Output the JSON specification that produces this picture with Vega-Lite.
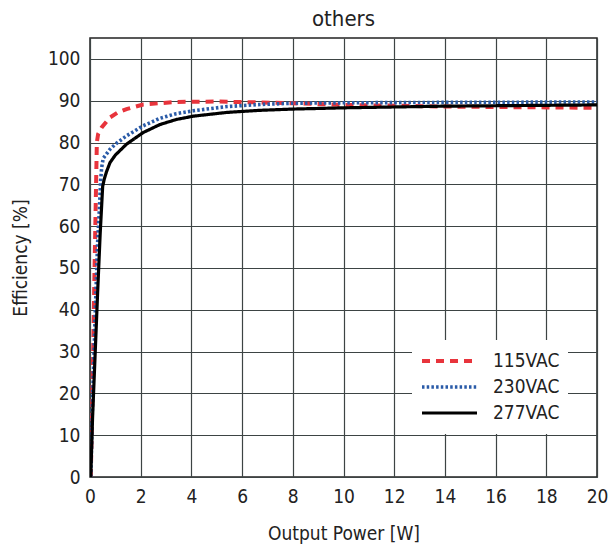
{
  "$schema": "https://vega.github.io/schema/vega-lite/v6.json",
  "width": 507,
  "height": 439,
  "autosize": {"type": "none"},
  "padding": {"left": 90, "top": 38, "right": 18, "bottom": 75},
  "background": "white",
  "title": {"text": "others", "fontSize": 22, "font": "Liberation Sans Narrow, DejaVu Sans Condensed, sans-serif", "fontWeight": "normal", "color": "#222", "offset": 7},
  "config": {
    "font": "Liberation Sans Narrow, DejaVu Sans Condensed, sans-serif",
    "view": {"stroke": "#222", "strokeWidth": 1.5}
  },
  "data": {"values": [
    {"series": "115VAC", "p": 0.03, "eff": 0},
    {"series": "115VAC", "p": 0.08, "eff": 15},
    {"series": "115VAC", "p": 0.13, "eff": 32},
    {"series": "115VAC", "p": 0.18, "eff": 50},
    {"series": "115VAC", "p": 0.24, "eff": 70},
    {"series": "115VAC", "p": 0.27, "eff": 80},
    {"series": "115VAC", "p": 0.32, "eff": 82},
    {"series": "115VAC", "p": 0.46, "eff": 83.6},
    {"series": "115VAC", "p": 0.79, "eff": 86},
    {"series": "115VAC", "p": 1.1, "eff": 87.2},
    {"series": "115VAC", "p": 1.44, "eff": 88},
    {"series": "115VAC", "p": 2.1, "eff": 89.1},
    {"series": "115VAC", "p": 3.4, "eff": 89.7},
    {"series": "115VAC", "p": 5, "eff": 89.8},
    {"series": "115VAC", "p": 6.7, "eff": 89.6},
    {"series": "115VAC", "p": 8, "eff": 89.4},
    {"series": "115VAC", "p": 10, "eff": 89.0},
    {"series": "115VAC", "p": 12, "eff": 88.8},
    {"series": "115VAC", "p": 14, "eff": 88.6},
    {"series": "115VAC", "p": 16, "eff": 88.5},
    {"series": "115VAC", "p": 18, "eff": 88.4},
    {"series": "115VAC", "p": 20, "eff": 88.3},
    {"series": "230VAC", "p": 0.03, "eff": 0},
    {"series": "230VAC", "p": 0.1, "eff": 18},
    {"series": "230VAC", "p": 0.2, "eff": 38},
    {"series": "230VAC", "p": 0.3, "eff": 56},
    {"series": "230VAC", "p": 0.37, "eff": 64},
    {"series": "230VAC", "p": 0.42, "eff": 71},
    {"series": "230VAC", "p": 0.46, "eff": 74},
    {"series": "230VAC", "p": 0.52, "eff": 76.2},
    {"series": "230VAC", "p": 0.79, "eff": 78.4},
    {"series": "230VAC", "p": 1.0, "eff": 79.6},
    {"series": "230VAC", "p": 1.44, "eff": 81.6},
    {"series": "230VAC", "p": 2.1, "eff": 84},
    {"series": "230VAC", "p": 2.76, "eff": 85.8},
    {"series": "230VAC", "p": 3.4, "eff": 86.9},
    {"series": "230VAC", "p": 4.07, "eff": 87.6},
    {"series": "230VAC", "p": 5.4, "eff": 88.6},
    {"series": "230VAC", "p": 6.7, "eff": 89.1},
    {"series": "230VAC", "p": 8, "eff": 89.4},
    {"series": "230VAC", "p": 10, "eff": 89.5},
    {"series": "230VAC", "p": 14, "eff": 89.6},
    {"series": "230VAC", "p": 20, "eff": 89.7},
    {"series": "277VAC", "p": 0.03, "eff": 0},
    {"series": "277VAC", "p": 0.1, "eff": 14},
    {"series": "277VAC", "p": 0.2, "eff": 29},
    {"series": "277VAC", "p": 0.3, "eff": 44},
    {"series": "277VAC", "p": 0.4, "eff": 58},
    {"series": "277VAC", "p": 0.5, "eff": 69.5},
    {"series": "277VAC", "p": 0.56, "eff": 71.2},
    {"series": "277VAC", "p": 0.65, "eff": 73},
    {"series": "277VAC", "p": 0.79, "eff": 75.2},
    {"series": "277VAC", "p": 1.0, "eff": 77},
    {"series": "277VAC", "p": 1.44, "eff": 79.6},
    {"series": "277VAC", "p": 2.1, "eff": 82.4},
    {"series": "277VAC", "p": 2.76, "eff": 84.3},
    {"series": "277VAC", "p": 3.4, "eff": 85.5},
    {"series": "277VAC", "p": 4.07, "eff": 86.3},
    {"series": "277VAC", "p": 5.4, "eff": 87.2},
    {"series": "277VAC", "p": 6.7, "eff": 87.7},
    {"series": "277VAC", "p": 8, "eff": 88.0},
    {"series": "277VAC", "p": 10, "eff": 88.3},
    {"series": "277VAC", "p": 12, "eff": 88.5},
    {"series": "277VAC", "p": 14, "eff": 88.7},
    {"series": "277VAC", "p": 16, "eff": 88.8},
    {"series": "277VAC", "p": 18, "eff": 88.9},
    {"series": "277VAC", "p": 20, "eff": 89.0}
  ]},
  "mark": {"type": "line", "strokeCap": "butt", "clip": true},
  "encoding": {
    "x": {"field": "p", "type": "quantitative",
      "scale": {"domain": [0, 20], "nice": false},
      "axis": {"values": [0,2,4,6,8,10,12,14,16,18,20], "title": "Output Power [W]", "titleFontSize": 19, "titleFontWeight": "normal", "titleColor": "#222", "titlePadding": 18,
        "labelFontSize": 19, "labelColor": "#222", "labelPadding": 10, "ticks": false, "domain": false,
        "grid": true, "gridColor": "#3d4444", "gridWidth": 1.2, "labelFlush": false}},
    "y": {"field": "eff", "type": "quantitative",
      "scale": {"domain": [0, 105], "nice": false},
      "axis": {"values": [0,10,20,30,40,50,60,70,80,90,100], "title": "Efficiency [%]", "titleFontSize": 19, "titleFontWeight": "normal", "titleColor": "#222", "titlePadding": 17,
        "labelFontSize": 19, "labelColor": "#222", "labelPadding": 10, "ticks": false, "domain": false,
        "grid": true, "gridColor": "#3d4444", "gridWidth": 1.2}},
    "color": {"field": "series", "type": "nominal",
      "scale": {"domain": ["115VAC", "230VAC", "277VAC"], "range": ["#e8343c", "#2a5ba8", "#000000"]},
      "legend": {"title": null, "orient": "none", "legendX": 322, "legendY": 302, "fillColor": "white", "padding": 8,
        "symbolType": "stroke", "symbolSize": 3025, "symbolStrokeWidth": 4, "labelFontSize": 19, "labelColor": "#222", "labelOffset": 14,
        "clipHeight": 26, "rowPadding": 0}},
    "strokeDash": {"field": "series", "type": "nominal",
      "scale": {"domain": ["115VAC", "230VAC", "277VAC"], "range": [[8, 6], [2.5, 2.2], [1, 0]]},
      "legend": null},
    "strokeWidth": {"field": "series", "type": "nominal",
      "scale": {"domain": ["115VAC", "230VAC", "277VAC"], "range": [4, 3.2, 4]},
      "legend": null}
  }
}
